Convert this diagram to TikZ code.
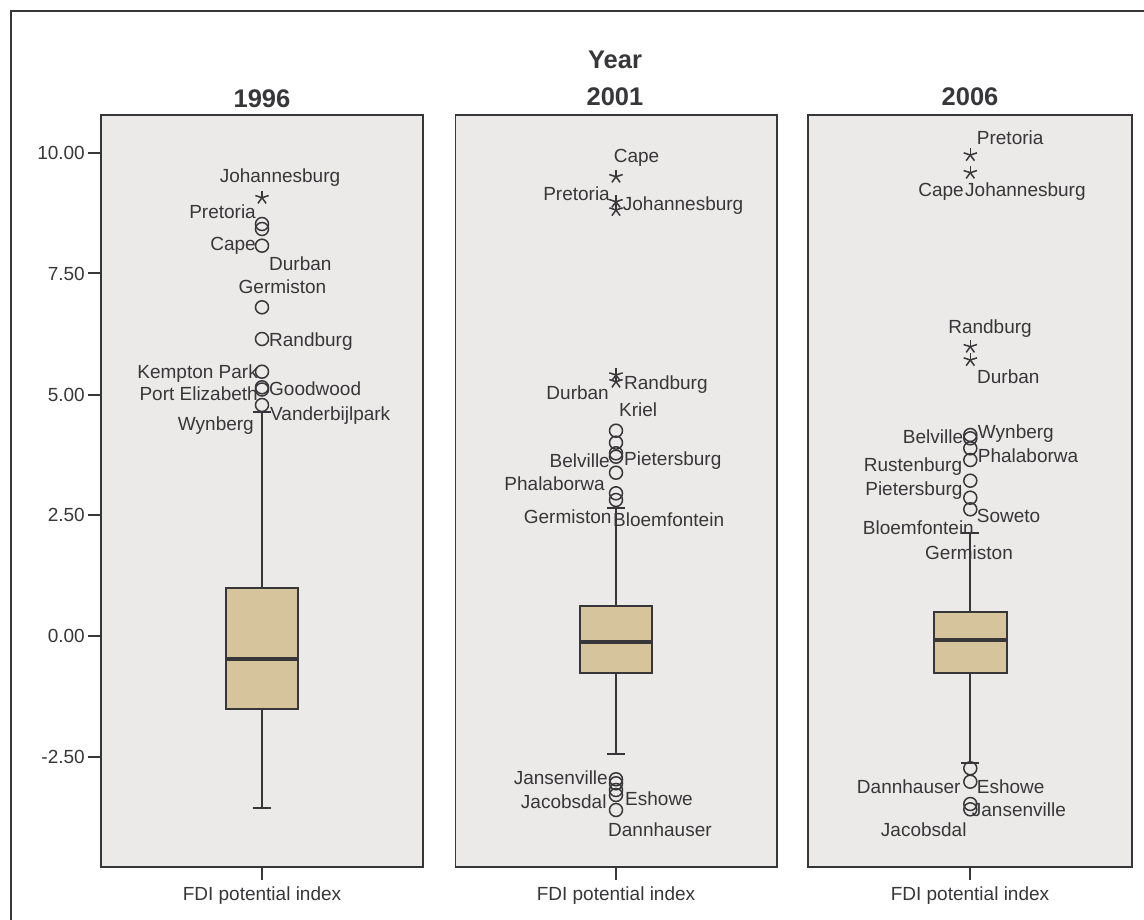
\documentclass[tikz,border=0pt]{standalone}
\usepackage{fontspec}
\setmainfont{Liberation Sans}
\definecolor{ink}{RGB}{55,55,58}
\definecolor{panelbg}{RGB}{235,234,232}
\definecolor{boxfill}{RGB}{214,196,157}
\begin{document}
\begin{tikzpicture}[x=1pt,y=-1pt,
  lbl/.style={font=\fontsize{19}{22}\selectfont, text=ink, inner sep=0pt, text height=13.7pt, text depth=0pt},
  ttl/.style={font=\bfseries\fontsize{25.5}{28}\selectfont, text=ink, inner sep=0pt},
  panelbox/.style={fill=panelbg, draw=ink, line width=1.6pt},
  tickline/.style={draw=ink, line width=2pt},
  whisk/.style={draw=ink, line width=2.2pt},
  boxq/.style={fill=boxfill, draw=ink, line width=2pt},
  medline/.style={draw=ink, line width=4pt},
  outc/.style={draw=ink, line width=1.5pt},
  astk/.pic={\foreach \a in {-90,-18,-162,54,126}{\draw[ink, line width=1.5pt] (0,0) -- (\a:7);}}
]
\useasboundingbox (0,0) rectangle (1144,920);
\fill[white] (0,0) rectangle (1144,920);
% outer frame
\draw[ink, line width=2pt] (11,920) -- (11,11) -- (1144,11);

% titles
\node[ttl] (year) at (615,60) {Year};
\node[ttl] (t1996) at (262,99) {1996};
\node[ttl] (t2001) at (615,97) {2001};
\node[ttl] (t2006) at (970,97) {2006};

% panels
\draw[panelbox] (101,115) rectangle (423,867);
\draw[panelbox] (455.5,115) rectangle (777,867);
\draw[panelbox] (808,115) rectangle (1132,867);

% y axis ticks and labels
\foreach \yy/\tx [count=\i] in {153/10.00, 273.5/7.50, 394.5/5.00, 515/2.50, 636/0.00, 756.6/-2.50}{
  \draw[tickline] (88,\yy) -- (101,\yy);
  \node[lbl, anchor=east] (ylab\i) at (85,\yy) {\tx};
}

% bottom ticks and axis labels
\foreach \xx [count=\i] in {262,616,970}{
  \draw[tickline] (\xx,867) -- (\xx,880);
  \node[lbl] (fdi\i) at (\xx,894) {FDI potential index};
}

% ---------- panel 1996 ----------
\draw[whisk] (262,412.3) -- (262,588);
\draw[whisk] (253,412.3) -- (271,412.3);
\draw[whisk] (262,709.3) -- (262,807.7);
\draw[whisk] (253,807.7) -- (271,807.7);
\draw[boxq] (226,588) rectangle (298,709.3);
\draw[medline] (227,659.3) -- (297,659.3);

\node[lbl] (a1) at (280,176) {Johannesburg};
\node[lbl, anchor=east] (a2) at (256,211.7) {Pretoria};
\node[lbl, anchor=east] (a3) at (256,244) {Cape};
\node[lbl, anchor=west] (a4) at (269,264) {Durban};
\node[lbl] (a5) at (282.5,286.7) {Germiston};
\node[lbl, anchor=west] (a6) at (269,340) {Randburg};
\node[lbl, anchor=east] (a7) at (258,371.7) {Kempton Park};
\node[lbl, anchor=east] (a8) at (258,394) {Port Elizabeth};
\node[lbl, anchor=west] (a9) at (269,389) {Goodwood};
\node[lbl, anchor=west] (a10) at (270,413.3) {Vanderbijlpark};
\node[lbl, anchor=east] (a11) at (254,424) {Wynberg};

\pic at (262,197.7) {astk};
\foreach \yy in {224,229,245.7,307.3,339,371.7,387.3,389.5,405}{
  \draw[outc] (262,\yy) circle (6.5);
}

% ---------- panel 2001 ----------
\draw[whisk] (616,507.7) -- (616,605.7);
\draw[whisk] (607,507.7) -- (625,507.7);
\draw[whisk] (616,673.3) -- (616,754.3);
\draw[whisk] (607,754.3) -- (625,754.3);
\draw[boxq] (580,605.7) rectangle (652.3,673.3);
\draw[medline] (581,641.7) -- (651.3,641.7);

\node[lbl] (b1) at (636.5,156) {Cape};
\node[lbl, anchor=east] (b2) at (610,194) {Pretoria};
\node[lbl, anchor=west] (b3) at (622.7,203.3) {Johannesburg};
\node[lbl, anchor=west] (b4) at (624,382.7) {Randburg};
\node[lbl, anchor=east] (b5) at (609,392.7) {Durban};
\node[lbl, anchor=west] (b6) at (619,409.3) {Kriel};
\node[lbl, anchor=west] (b7) at (624,458.3) {Pietersburg};
\node[lbl, anchor=east] (b8) at (610,460.7) {Belville};
\node[lbl, anchor=east] (b9) at (605,483.3) {Phalaborwa};
\node[lbl, anchor=east] (b10) at (611.7,516.7) {Germiston};
\node[lbl, anchor=west] (b11) at (613,519.3) {Bloemfontein};
\node[lbl, anchor=east] (b12) at (608,777.3) {Jansenville};
\node[lbl, anchor=west] (b13) at (625,798.3) {Eshowe};
\node[lbl, anchor=east] (b14) at (606.7,801.7) {Jacobsdal};
\node[lbl, anchor=west] (b15) at (608,829.3) {Dannhauser};

\foreach \yy in {176.7,201.7,210,375,381.7}{ \pic at (616,\yy) {astk}; }
\foreach \yy in {430.7,442.7,453.3,456.7,472.7,493.3,500,779.3,783.3,790,795,810}{
  \draw[outc] (616,\yy) circle (6.5);
}

% ---------- panel 2006 ----------
\draw[whisk] (970.3,532.7) -- (970.3,612.3);
\draw[whisk] (961.3,532.7) -- (979.3,532.7);
\draw[whisk] (970.3,672.7) -- (970.3,762.7);
\draw[whisk] (961.3,762.7) -- (979.3,762.7);
\draw[boxq] (934,612.3) rectangle (1006.7,672.7);
\draw[medline] (935,640) -- (1005.7,640);

\node[lbl, anchor=west] (c1) at (976.7,137.3) {Pretoria};
\node[lbl, anchor=east] (c2) at (964,190) {Cape};
\node[lbl, anchor=west] (c3) at (965,190) {Johannesburg};
\node[lbl] (c4) at (990,326.7) {Randburg};
\node[lbl, anchor=west] (c5) at (977,376.7) {Durban};
\node[lbl, anchor=west] (c6) at (977.7,431.7) {Wynberg};
\node[lbl, anchor=east] (c7) at (963.3,436.7) {Belville};
\node[lbl, anchor=west] (c8) at (977.7,456) {Phalaborwa};
\node[lbl, anchor=east] (c9) at (962.3,465) {Rustenburg};
\node[lbl, anchor=east] (c10) at (962.7,488.3) {Pietersburg};
\node[lbl, anchor=west] (c11) at (976.7,515.7) {Soweto};
\node[lbl, anchor=east] (c12) at (974,527.3) {Bloemfontein};
\node[lbl] (c13) at (969,552.3) {Germiston};
\node[lbl, anchor=east] (c14) at (960.7,786.7) {Dannhauser};
\node[lbl, anchor=west] (c15) at (976.7,786.7) {Eshowe};
\node[lbl, anchor=west] (c16) at (971.7,810) {Jansenville};
\node[lbl, anchor=east] (c17) at (966.7,829.3) {Jacobsdal};

\foreach \yy in {155,172.7,346.7,360}{ \pic at (970.3,\yy) {astk}; }
\foreach \yy in {435,438.3,448.3,460,480.7,497.7,509.3,768.3,781.7,804,809.3}{
  \draw[outc] (970.3,\yy) circle (6.5);
}
\end{tikzpicture}
\end{document}
